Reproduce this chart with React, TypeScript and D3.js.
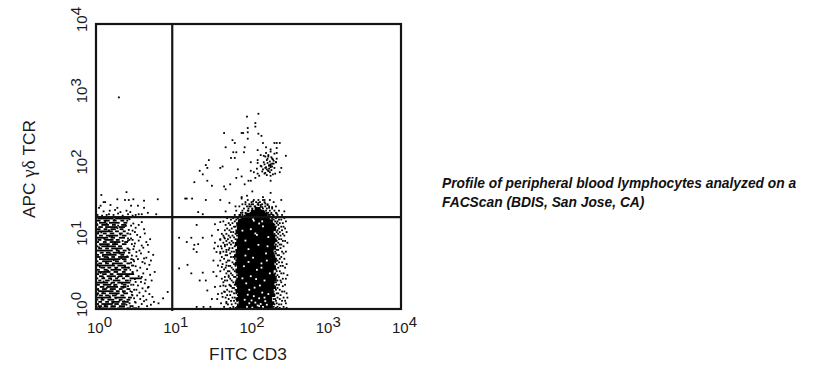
import React from "react";
import * as d3 from "d3";

// All event values are in hundredths of a decade: 150 means 10^1.5.
const decades = [0, 1, 2, 3, 4];
const gateX = 100;
const gateY = 129;

// Lower-left population, read as horizontal streaks: [y, x1, x2, x1, x2, ...]
const leftStreaks = [
  [1, 0, 16, 18, 26, 28, 38, 40, 46, 48, 54],
  [4, 2, 8, 10, 16, 19, 26, 30, 38, 44, 47],
  [7, 0, 4, 7, 22, 24, 30, 33, 39],
  [10, 3, 8, 12, 17, 20, 31, 34, 43, 50, 52],
  [13, 0, 3, 6, 11, 15, 24, 30, 35, 40, 45],
  [16, 1, 20, 24, 39, 42, 47],
  [19, 4, 9, 12, 17, 21, 27, 32, 37, 47, 49],
  [22, 0, 4, 7, 13, 17, 31, 36, 42],
  [25, 3, 23, 26, 31, 34, 39, 44, 46],
  [28, 0, 4, 8, 14, 18, 26, 30, 35, 40, 45],
  [31, 5, 11, 14, 29, 32, 40],
  [34, 1, 5, 9, 20, 23, 28, 35, 40, 45, 47],
  [37, 0, 16, 20, 25, 28, 45],
  [40, 3, 7, 12, 18, 22, 32, 38, 43],
  [43, 0, 3, 7, 12, 16, 21, 25, 29, 34, 38, 44, 60],
  [46, 4, 10, 14, 26, 29, 35, 38, 44],
  [49, 0, 4, 8, 14, 18, 23, 27, 50],
  [52, 2, 19, 23, 29, 34, 39],
  [55, 0, 5, 10, 15, 19, 33, 36, 41, 44, 46],
  [58, 6, 12, 15, 20, 24, 29, 33, 44],
  [61, 0, 25, 28, 39, 46, 50],
  [64, 3, 8, 12, 17, 21, 35, 40, 45],
  [67, 0, 3, 8, 21, 25, 30, 36, 40],
  [70, 4, 32, 34, 40, 45, 48],
  [73, 1, 6, 10, 16, 20, 25, 29, 43],
  [76, 0, 4, 8, 27, 32, 37],
  [79, 5, 10, 13, 19, 22, 38, 42, 45],
  [82, 0, 22, 26, 31, 35, 40],
  [85, 3, 8, 12, 17, 20, 35, 40, 43],
  [88, 0, 3, 7, 26, 29, 34],
  [91, 4, 18, 21, 29, 34, 40],
  [94, 0, 4, 9, 14, 18, 32, 37, 42],
  [97, 2, 7, 11, 23, 26, 31, 43, 45],
  [100, 0, 16, 19, 25, 30, 38],
  [103, 4, 9, 13, 29, 34, 40],
  [106, 0, 4, 9, 14, 18, 24, 30, 35, 40, 43],
  [109, 2, 22, 25, 30, 35, 39],
  [112, 0, 6, 10, 15, 19, 26, 31, 36],
  [115, 3, 9, 12, 28, 30, 38],
  [118, 0, 3, 7, 17, 21, 26, 33, 40],
  [121, 4, 13, 17, 31, 36, 41],
  [124, 0, 6, 10, 18, 22, 27, 32, 37],
  [127, 2, 23, 25, 44],
];

// Vertical joins and clumps that break up the streaks of the lower-left population
const clumpX = [5, 12, 22, 31, 8, 18, 27, 36, 3, 14, 24, 34, 10, 20, 29, 41, 6, 16, 26, 38, 2, 13, 23, 33, 9, 19, 30, 43, 4, 15, 25, 35, 11, 21, 32, 7, 17, 28, 39, 1, 12, 24, 37, 9, 20, 33, 5, 16, 27, 42, 3, 14, 26, 36, 10, 22, 31, 6, 18, 29, 40, 2, 15, 25, 44, 47, 42, 50, 45, 48, 43, 52, 46, 41, 49, 44, 53, 47, 42, 50, 45, 48, 43, 51, 46, 41, 49, 44];
const clumpY = [2.5, 5.5, 8.5, 12, 14.5, 18, 21, 23.5, 26.5, 29.5, 33, 35.5, 38.5, 41.5, 45, 47.5, 50.5, 53.5, 56.5, 60, 62.5, 65.5, 68.5, 71.5, 74.5, 77.5, 80.5, 83.5, 86.5, 89.5, 92.5, 95.5, 98.5, 101.5, 104.5, 107.5, 110.5, 113.5, 116.5, 119.5, 122.5, 125.5, 11, 24, 36, 48, 59, 72, 84, 96, 108, 120, 15, 30, 44, 63, 78, 90, 102, 117, 6, 20, 54, 69, 8, 20, 32, 27, 40, 52, 58, 38, 65, 74, 69, 83, 80, 91, 99, 88, 105, 97, 111, 108, 117, 124, 120, 126];

// Sparse events in the lower-left tail, upper-left gate and the gap between populations
const leftTailX = [48, 52, 56, 60, 63, 67, 72, 76, 50, 54, 58, 62, 66, 70, 74, 47, 53, 57, 61, 65, 69, 49, 55, 59, 64, 68, 73, 51, 56, 60, 65, 71, 48, 54, 62, 67, 52, 58, 64, 70, 77, 50, 55, 61, 66, 72, 47, 53, 59, 63, 69, 75, 49, 57, 62, 68, 51, 56, 60, 66, 46, 54, 58, 64, 71, 48, 52, 63, 56, 60, 82, 88, 94];
const leftTailY = [4, 9, 3, 7, 11, 4, 6, 10, 15, 19, 14, 18, 13, 21, 17, 24, 27, 23, 29, 25, 31, 34, 33, 38, 36, 30, 40, 42, 46, 45, 41, 48, 51, 54, 50, 56, 60, 58, 64, 62, 52, 67, 70, 66, 72, 68, 75, 74, 78, 71, 80, 76, 84, 82, 86, 90, 92, 96, 89, 94, 99, 104, 101, 106, 98, 110, 114, 112, 118, 122, 8, 15, 24];

const upperLeftX = [30, 40, 7, 28, 38, 43, 49, 81, 12, 10, 63, 6, 19, 46, 55, 63, 28, 4, 10, 18, 25, 32, 40, 45, 17, 23, 29, 42, 52, 60, 79, 2, 8, 14, 35, 48, 56, 68];
const upperLeftY = [297, 164, 160, 154, 153, 153, 154, 154, 150, 150, 152, 145, 146, 145, 145, 142, 142, 142, 137, 138, 139, 136, 138, 136, 133, 132, 134, 133, 132, 133, 133, 132, 131, 132, 131, 131, 133, 135];

const gapX = [132, 156, 163, 109, 125, 140, 119, 129, 134, 128, 132, 160, 152, 156, 167, 163, 169, 160, 155, 165, 158, 169, 171, 163, 109, 120, 125, 140, 136, 144, 154, 158, 156, 160, 166, 169, 132, 141, 150, 160, 154, 163, 165, 171, 169, 167, 174, 176, 171, 146, 152];
const gapY = [118, 119, 122, 100, 100, 100, 94, 90, 91, 84, 80, 111, 103, 93, 103, 97, 99, 88, 85, 85, 80, 90, 80, 80, 57, 62, 50, 51, 40, 40, 52, 46, 31, 21, 17, 24, 3, 3, 3, 61, 68, 68, 59, 61, 40, 33, 47, 33, 10, 26, 14];

// Upper population, CD3+ and gamma-delta bright
const upperX = [198, 213, 209, 209, 199, 199, 191, 193, 168, 213, 217, 199, 179, 182, 219, 234, 237, 241, 170, 195, 212, 223, 229, 237, 229, 180, 184, 194, 216, 223, 237, 249, 177, 182, 212, 220, 231, 237, 236, 226, 148, 144, 203, 212, 220, 229, 216, 243, 166, 163, 146, 136, 186, 203, 207, 211, 217, 222, 227, 231, 226, 218, 212, 224, 229, 221, 214, 140, 241, 191, 184, 209, 229, 203, 200, 129, 146, 152, 176, 195, 168, 170, 205, 229, 191, 198, 219, 117, 119, 126, 144, 163, 191, 243, 175, 206, 213, 221, 225, 216, 231, 183, 134, 140, 170, 247, 196, 201, 204, 209, 213, 218, 222, 227, 205, 211, 216, 200, 207, 214, 221, 192, 197, 203, 210, 217, 224, 230, 237, 189, 195, 201, 208, 214, 220, 226, 233];
const upperY = [270, 274, 261, 256, 254, 248, 247, 247, 247, 246, 243, 239, 237, 233, 233, 233, 233, 233, 227, 227, 223, 227, 224, 226, 221, 220, 220, 220, 216, 219, 219, 215, 212, 212, 209, 215, 211, 211, 206, 214, 209, 202, 206, 205, 206, 203, 201, 198, 200, 198, 198, 194, 196, 194, 192, 197, 200, 198, 201, 204, 194, 193, 190, 196, 199, 190, 187, 189, 192, 186, 184, 184, 180, 180, 180, 178, 180, 173, 175, 175, 172, 168, 165, 163, 157, 159, 157, 155, 155, 155, 153, 153, 155, 153, 149, 151, 149, 153, 146, 146, 143, 144, 136, 133, 137, 137, 147, 144, 147, 144, 146, 143, 148, 142, 140, 140, 139, 138, 137, 138, 136, 135, 134, 135, 134, 134, 135, 133, 134, 132, 131, 132, 131, 132, 131, 132, 131];

// Tighter clump at the centre of the upper population
const upperClumpX = [222, 226, 230, 234, 224, 228, 232, 236, 221, 225, 229, 233, 223, 227, 231, 219, 226, 230, 234, 222, 228, 235, 224, 229, 232, 227, 233, 225];
const upperClumpY = [214, 216, 213, 218, 209, 207, 210, 206, 203, 205, 201, 204, 199, 197, 200, 196, 194, 195, 198, 191, 192, 190, 188, 187, 189, 202, 208, 211];

// Main CD3+ population: solid core outline, then the fringe around it and the gaps inside it
const coreY = [1, 6, 11, 17, 22, 28, 33, 39, 44, 50, 55, 61, 66, 72, 77, 83, 88, 94, 99, 105, 110, 116, 121, 126, 131, 135, 139, 143];
const coreLeft = [189, 185, 187, 184, 186, 183, 185, 182, 184, 186, 183, 185, 182, 184, 181, 183, 185, 182, 184, 186, 183, 185, 184, 186, 190, 196, 203, 208];
const coreRight = [229, 232, 234, 231, 235, 233, 236, 234, 237, 235, 233, 236, 234, 237, 235, 233, 236, 234, 237, 235, 233, 236, 234, 232, 228, 225, 221, 216];

const fringeRows = [
  [1.5, 176, 183, 187, 229, 236, 241, 250],
  [3, 168, 180, 185, 233, 238, 246],
  [6.5, 173, 178, 186, 234, 240, 243],
  [8, 164, 171, 183, 232, 237, 249],
  [11.5, 177, 181, 185, 236, 244, 248],
  [14, 159, 174, 184, 187, 233, 235, 241],
  [16, 170, 179, 182, 238, 246, 251],
  [19.5, 172, 176, 186, 231, 234, 242],
  [22, 165, 181, 184, 237, 239, 250],
  [24.5, 168, 175, 178, 233, 244, 247],
  [27, 172, 183, 187, 236, 241],
  [29.5, 179, 181, 235, 238],
  [32, 163, 170, 177, 185, 233, 245],
  [34, 175, 182, 187, 237, 240, 248],
  [37.5, 167, 180, 234, 236, 243],
  [40, 172, 178, 184, 238, 242],
  [42.5, 165, 176, 186, 232, 245, 249],
  [45, 169, 174, 181, 183, 236, 240],
  [47.5, 179, 185, 234, 238, 251],
  [50, 171, 177, 187, 235, 243, 246],
  [53, 163, 173, 175, 182, 237, 241],
  [55.5, 168, 180, 184, 233, 236],
  [58, 170, 178, 186, 239, 248],
  [60.5, 174, 176, 183, 234, 242, 245],
  [63, 166, 181, 185, 237, 250],
  [65.5, 171, 179, 187, 235, 240, 244],
  [68, 173, 175, 184, 233, 238],
  [70.5, 168, 182, 236, 241, 247],
  [73, 165, 177, 180, 186, 234, 243],
  [75.5, 170, 172, 183, 238, 240],
  [78, 163, 176, 185, 233, 236, 246],
  [80.5, 167, 178, 181, 235, 244, 249],
  [83, 171, 174, 184, 237, 239],
  [85.5, 175, 179, 186, 233, 242],
  [88, 164, 169, 182, 235, 238, 246],
  [90.5, 172, 177, 184, 236, 241, 243],
  [93, 167, 175, 180, 234, 239, 251],
  [95.5, 171, 178, 186, 237, 245, 248],
  [98, 163, 173, 183, 235, 240, 243],
  [100.5, 168, 176, 181, 233, 238],
  [103, 174, 179, 185, 236, 242, 247],
  [105.5, 165, 171, 183, 234, 239, 245],
  [108, 177, 180, 187, 237, 241, 250],
  [110.5, 169, 175, 184, 235, 238, 244],
  [113, 172, 178, 186, 233, 240, 248],
  [115.5, 181, 183, 236, 243, 246],
  [118, 170, 176, 187, 234, 239],
  [120.5, 174, 179, 185, 237, 241, 245],
  [123, 167, 182, 188, 235, 238, 249],
  [125.5, 177, 184, 189, 233, 240, 243],
  [127.5, 172, 180, 186, 231, 236, 247],
  [132, 182, 188, 192, 228, 232, 238, 244],
  [135, 190, 196, 226, 230, 236],
  [138, 184, 192, 199, 223, 228, 234, 240],
  [141, 194, 200, 205, 219, 224, 231],
  [144, 188, 198, 203, 208, 216, 222, 227, 236],
  [147, 192, 201, 206, 212, 218, 225],
  [150, 196, 204, 210, 215, 221, 233],
  [153, 199, 207, 213, 219, 228],
];

const specksX = [198, 205, 212, 219, 201, 209, 216, 224, 195, 204, 214, 222, 199, 207, 218, 226, 208, 215, 197, 221, 203, 228, 211, 194, 217, 206, 223, 200, 213, 196, 226, 209, 203, 219, 214, 207, 192, 224, 201, 217, 210, 196, 206, 218, 211, 225, 200, 192, 214, 221];
const specksY = [3, 2, 5, 3, 8, 9, 7, 6, 13, 12, 15, 11, 20, 18, 23, 21, 30, 33, 36, 40, 46, 50, 55, 60, 64, 72, 78, 84, 90, 96, 101, 106, 112, 116, 120, 124, 43, 68, 27, 58, 42, 75, 126, 123, 104, 88, 66, 110, 4, 16];

const width = 831;
const height = 377;
const xScale = d3.scaleLinear().domain([0, 400]).range([96, 401]);
const yScale = d3.scaleLinear().domain([0, 400]).range([309, 24]);
const ink = "#000";
const frame = "#141414";
const sans = "'Liberation Sans', Arial, sans-serif";

const coreArea = d3
  .area<number>()
  .x0((_, i) => xScale(coreLeft[i]))
  .x1((_, i) => xScale(coreRight[i]))
  .y((d) => yScale(d))
  .curve(d3.curveStepAfter);

const dot = 1.8;
function Dot({ x, y, fill = ink }: { x: number; y: number; fill?: string }) {
  return <rect x={xScale(x) - dot / 2} y={yScale(y) - dot / 2} width={dot} height={dot} fill={fill} />;
}

export default function App() {
  return (
    <svg
      width={width}
      height={height}
      viewBox={`0 0 ${width} ${height}`}
      style={{ position: "absolute", left: 0, top: 0, background: "#fff" }}
    >
      {leftStreaks.map((row, r) =>
        d3.pairs(row.slice(1))
          .filter((_, i) => i % 2 === 0)
          .map(([a, b], i) => (
            <rect
              key={`s${r}-${i}`}
              x={xScale(a)}
              y={yScale(row[0]) - 0.9}
              width={xScale(b) - xScale(a)}
              height={1.8}
              fill={ink}
            />
          ))
      )}
      {clumpX.map((x, i) => <Dot key={`c${i}`} x={x} y={clumpY[i]} />)}
      {leftTailX.map((x, i) => <Dot key={`t${i}`} x={x} y={leftTailY[i]} />)}
      {upperLeftX.map((x, i) => <Dot key={`u${i}`} x={x} y={upperLeftY[i]} />)}
      {gapX.map((x, i) => <Dot key={`g${i}`} x={x} y={gapY[i]} />)}
      {upperX.map((x, i) => <Dot key={`p${i}`} x={x} y={upperY[i]} />)}
      {upperClumpX.map((x, i) => <Dot key={`q${i}`} x={x} y={upperClumpY[i]} />)}
      <path d={coreArea(coreY) ?? ""} fill={ink} />
      {fringeRows.map((row, r) =>
        row.slice(1).map((x, i) => <Dot key={`f${r}-${i}`} x={x} y={row[0]} />)
      )}
      {specksX.map((x, i) => <Dot key={`w${i}`} x={x} y={specksY[i]} fill="#fff" />)}

      <rect
        x={xScale(0)}
        y={yScale(400)}
        width={xScale(400) - xScale(0)}
        height={yScale(0) - yScale(400)}
        fill="none"
        stroke={frame}
        strokeWidth={2.2}
      />
      <line x1={xScale(gateX)} x2={xScale(gateX)} y1={yScale(400)} y2={yScale(0) + 2} stroke={frame} strokeWidth={2.2} />
      <line x1={xScale(0)} x2={xScale(400)} y1={yScale(gateY)} y2={yScale(gateY)} stroke={frame} strokeWidth={2.2} />

      <g fontFamily={sans} fontSize={15} fill="#1a1a1a">
        {decades.map((d) => (
          <text key={`x${d}`} x={xScale(d * 100) - 9} y={333}>
            10
            <tspan dy={-6}>{d}</tspan>
          </text>
        ))}
        {decades.map((d) => (
          <text
            key={`y${d}`}
            transform={`translate(87,${yScale(d * 100) + 8}) rotate(-90)`}
          >
            10
            <tspan dy={-6}>{d}</tspan>
          </text>
        ))}
      </g>

      <text x={248} y={360} textAnchor="middle" fontFamily={sans} fontSize={17.3} fill="#1a1a1a">
        FITC CD3
      </text>
      <text
        transform="translate(35,218) rotate(-90)"
        fontFamily={sans}
        fontSize={17.3}
        fill="#1a1a1a"
      >
        APC <tspan fontFamily="'Liberation Serif', serif" fontSize={19}>γδ</tspan> TCR
      </text>

      <g fontFamily={sans} fontSize={13.8} fontWeight="bold" fontStyle="italic" fill="#111">
        <text x={442} y={188}>Profile of peripheral blood lymphocytes analyzed on a</text>
        <text x={442} y={207}>FACScan (BDIS, San Jose, CA)</text>
      </g>
    </svg>
  );
}
